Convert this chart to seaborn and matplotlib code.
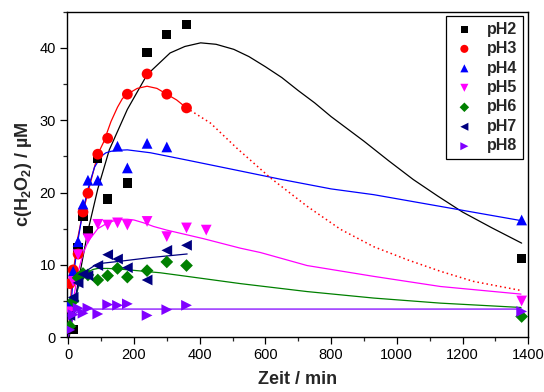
import matplotlib
matplotlib.use("Agg")
import matplotlib.pyplot as plt
import seaborn as sns
import pandas as pd

# Measured H2O2 concentrations (µM) vs. time (min)
t_ph2 = [15, 30, 45, 60, 90, 120, 180, 240, 300, 360, 1380]
c_ph2 = [1.1, 12.4, 16.7, 14.7, 24.7, 19.1, 21.3, 39.4, 41.9, 43.2, 10.9]

t_ph3 = [5, 15, 30, 45, 60, 90, 120, 180, 240, 300, 360]
c_ph3 = [7.4, 9.3, 11.5, 17.3, 19.9, 25.3, 27.5, 33.6, 36.4, 33.6, 31.7]

t_ph4 = [5, 15, 30, 45, 60, 90, 150, 180, 240, 300, 1380]
c_ph4 = [4.8, 9.1, 13.2, 18.4, 21.7, 21.7, 26.4, 23.4, 26.8, 26.3, 16.2]

t_ph5 = [5, 15, 30, 60, 90, 120, 150, 180, 240, 300, 360, 420, 1380]
c_ph5 = [3.5, 7.7, 11.4, 13.6, 15.6, 15.5, 15.8, 15.5, 16.0, 13.9, 15.1, 14.8, 5.0]

t_ph6 = [5, 15, 30, 45, 60, 90, 120, 150, 180, 240, 300, 360, 1380]
c_ph6 = [1.5, 5.0, 8.2, 8.8, 8.6, 7.9, 8.5, 9.5, 8.3, 9.2, 10.4, 9.9, 2.85]

t_ph7 = [5, 15, 30, 45, 60, 90, 120, 150, 180, 240, 300, 360]
c_ph7 = [3.0, 5.5, 7.5, 8.7, 8.5, 9.9, 11.4, 10.8, 9.6, 7.9, 12.0, 12.7]

t_ph8 = [5, 15, 30, 45, 60, 90, 120, 150, 180, 240, 300, 360, 1380]
c_ph8 = [1.0, 3.1, 4.0, 3.3, 4.0, 3.2, 4.5, 4.4, 4.6, 3.0, 3.8, 4.4, 3.55]

# Model curves (traced values)
fit_t_ph2 = [3, 30, 60, 90, 125, 180, 240, 310, 355, 403, 450, 504, 550, 600, 650,
             700, 750, 800, 850, 900, 975, 1050, 1125, 1200, 1290, 1380]
fit_c_ph2 = [0, 7.5, 14.7, 20.5, 25.9, 31.5, 36.3, 39.3, 40.2, 40.7, 40.5, 39.8, 38.8,
             37.4, 35.9, 34.1, 32.4, 30.5, 28.8, 27.1, 24.4, 21.8, 19.5, 17.3, 15.1, 13.0]

fit_t_ph3 = [0, 10, 28, 45, 60, 90, 108, 130, 150, 165, 180, 210, 240, 270, 300, 330, 360]
fit_c_ph3 = [0, 7.0, 13.5, 17.3, 20.0, 25.3, 27.0, 29.8, 31.8, 33.0, 33.6, 34.4, 34.7,
             34.4, 33.6, 32.8, 31.7]
ext_t_ph3 = [360, 433, 514, 616, 727, 829, 930, 1032, 1133, 1234, 1378]
ext_c_ph3 = [31.7, 29.6, 26.1, 22.0, 18.1, 14.9, 12.5, 10.7, 9.1, 7.7, 6.45]

fit_t_ph4 = [0, 15, 30, 45, 60, 80, 100, 115, 130, 155, 180, 250, 360, 500, 650, 800,
             930, 1130, 1380]
fit_c_ph4 = [0, 8.0, 13.5, 17.5, 20.5, 23.5, 25.0, 25.5, 25.7, 25.85, 25.9, 25.5, 24.5,
             23.2, 21.8, 20.5, 19.7, 18.1, 16.1]

fit_t_ph5 = [0, 15, 30, 45, 60, 90, 120, 140, 160, 180, 200, 230, 260, 300, 413, 524,
             585, 727, 930, 1133, 1378]
fit_c_ph5 = [0, 5.0, 9.0, 11.5, 13.2, 15.0, 15.8, 16.1, 16.3, 16.3, 16.2, 15.8, 15.3,
             14.8, 13.6, 12.3, 11.7, 9.9, 8.4, 7.0, 5.95]

fit_t_ph6 = [0, 15, 30, 45, 60, 75, 90, 120, 160, 280, 362, 524, 727, 930, 1133, 1378]
fit_c_ph6 = [0, 4.0, 6.8, 8.3, 9.0, 9.35, 9.5, 9.5, 9.4, 8.9, 8.4, 7.4, 6.3, 5.4, 4.7, 4.1]

fit_t_ph7 = [0, 15, 30, 45, 60, 80, 100, 159, 250, 362]
fit_c_ph7 = [0, 4.5, 7.0, 8.5, 9.3, 9.9, 10.2, 10.5, 11.0, 11.5]

fit_t_ph8 = [0, 10, 20, 35, 60, 200, 1380]
fit_c_ph8 = [0, 2.0, 3.2, 3.7, 3.88, 3.88, 3.88]

labels = ["pH2", "pH3", "pH4", "pH5", "pH6", "pH7", "pH8"]
colors = ["#000000", "#FF0000", "#0000FF", "#FF00FF", "#008000", "#000080", "#8000FF"]
markers = ["s", "o", "^", "v", "D", "<", ">"]
sizes = [45, 60, 60, 60, 42, 60, 60]

sns.set_style("ticks")
plt.rcParams["font.family"] = ["Liberation Sans", "DejaVu Sans"]
plt.rcParams["mathtext.fontset"] = "custom"
plt.rcParams["mathtext.rm"] = "Liberation Sans"
plt.rcParams["mathtext.bf"] = "Liberation Sans:bold"

fig = plt.figure(figsize=(5.44, 3.92), dpi=100)
ax = fig.add_axes([0.123, 0.140, 0.848, 0.830])

fits = [
    (fit_t_ph2, fit_c_ph2), (fit_t_ph3, fit_c_ph3), (fit_t_ph4, fit_c_ph4),
    (fit_t_ph5, fit_c_ph5), (fit_t_ph6, fit_c_ph6), (fit_t_ph7, fit_c_ph7),
    (fit_t_ph8, fit_c_ph8),
]
for (ft, fc), col in zip(fits, colors):
    sns.lineplot(x=ft, y=fc, ax=ax, color=col, lw=0.9, sort=False,
                 estimator=None, legend=False)
sns.lineplot(x=ext_t_ph3, y=ext_c_ph3, ax=ax, color=colors[1], lw=1.1,
             linestyle=(0, (1, 2)), sort=False, estimator=None, legend=False)

series = [
    (t_ph2, c_ph2), (t_ph3, c_ph3), (t_ph4, c_ph4), (t_ph5, c_ph5),
    (t_ph6, c_ph6), (t_ph7, c_ph7), (t_ph8, c_ph8),
]
frames = []
for (tt, cc), lab in zip(series, labels):
    frames.append(pd.DataFrame({"Zeit": tt, "c": cc, "pH": lab}))
df = pd.concat(frames, ignore_index=True)

for lab, col, mk, sz in zip(labels, colors, markers, sizes):
    sub = df[df["pH"] == lab]
    sns.scatterplot(data=sub, x="Zeit", y="c", ax=ax, color=col, marker=mk,
                    s=sz, edgecolor="none", linewidth=0, label=lab, zorder=3)

ax.set_xlim(-4, 1400)
ax.set_ylim(0, 45)
ax.set_xticks(range(0, 1401, 200))
ax.set_xticks(range(0, 1401, 100), minor=True)
ax.set_yticks(range(0, 41, 10))
ax.set_yticks(range(0, 46, 5), minor=True)
ax.tick_params(axis="both", which="major", direction="out", length=5, width=0.9,
               labelsize=10.5, colors="#000000", pad=3)
ax.tick_params(axis="both", which="minor", direction="out", length=3, width=0.9)
ax.tick_params(top=False, right=False, which="both")
for sp in ax.spines.values():
    sp.set_visible(True)
    sp.set_color("#000000")
    sp.set_linewidth(1.0)

ax.set_xlabel("Zeit / min", fontsize=13, fontweight="bold", labelpad=6)
ax.set_ylabel(r"c(H$_\mathbf{2}$O$_\mathbf{2}$) / µM", fontsize=13,
              fontweight="bold", labelpad=4)

leg = ax.legend(loc="upper right", bbox_to_anchor=(0.988, 0.987), frameon=True,
                fancybox=False, edgecolor="#000000", framealpha=1,
                prop={"weight": "bold", "size": 11.5}, handletextpad=0.6,
                borderpad=0.35, labelspacing=0.28, markerscale=0.75,
                handlelength=1.6, borderaxespad=0)
leg.get_frame().set_linewidth(0.9)

fig.savefig("out.png", dpi=100)
